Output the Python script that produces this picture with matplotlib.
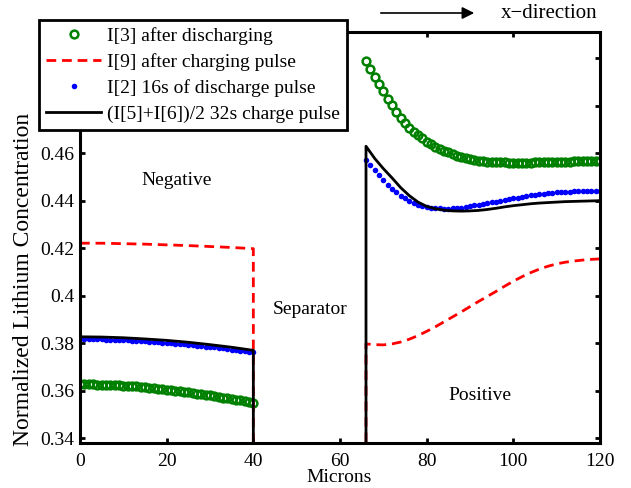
import matplotlib
matplotlib.use('Agg')
import matplotlib.pyplot as plt
from matplotlib.ticker import FuncFormatter

# ---------------- data ----------------
neg_x = list(range(0, 41))          # microns, negative electrode grid
pos_x = list(range(66, 121))        # microns, positive electrode grid
sep_x = [40, 66]                    # separator ends (concentration off scale)
sep_y = [0.0, 0.0]

green_neg = [0.3627, 0.3627, 0.3627, 0.3627, 0.3626, 0.3626, 0.3625, 0.3624, 0.3624, 0.3623,
             0.3622, 0.3621, 0.3619, 0.3618, 0.3617, 0.3615, 0.3613, 0.3611, 0.3609, 0.3607,
             0.3605, 0.3603, 0.3600, 0.3598, 0.3595, 0.3593, 0.3590, 0.3588, 0.3585, 0.3583,
             0.3580, 0.3577, 0.3574, 0.3571, 0.3568, 0.3565, 0.3562, 0.3559, 0.3555, 0.3552,
             0.3549]
green_pos = [0.4988, 0.4955, 0.4922, 0.4890, 0.4860, 0.4830, 0.4801, 0.4774, 0.4750, 0.4728,
             0.4708, 0.4691, 0.4676, 0.4662, 0.4649, 0.4638, 0.4628, 0.4619, 0.4611, 0.4603,
             0.4596, 0.4590, 0.4584, 0.4579, 0.4575, 0.4571, 0.4568, 0.4566, 0.4564, 0.4563,
             0.4562, 0.4561, 0.4561, 0.4560, 0.4560, 0.4560, 0.4560, 0.4560, 0.4560, 0.4561,
             0.4561, 0.4561, 0.4562, 0.4562, 0.4563, 0.4563, 0.4564, 0.4564, 0.4565, 0.4565,
             0.4565, 0.4566, 0.4566, 0.4566, 0.4566]

blue_neg = [0.3817, 0.3817, 0.3817, 0.3817, 0.3816, 0.3816, 0.3815, 0.3815, 0.3814, 0.3814,
            0.3813, 0.3812, 0.3811, 0.3810, 0.3809, 0.3808, 0.3807, 0.3805, 0.3804, 0.3802,
            0.3801, 0.3799, 0.3798, 0.3796, 0.3795, 0.3793, 0.3791, 0.3789, 0.3788, 0.3786,
            0.3784, 0.3782, 0.3780, 0.3778, 0.3775, 0.3773, 0.3771, 0.3769, 0.3767, 0.3764,
            0.3762]
blue_pos = [0.4570, 0.4550, 0.4528, 0.4506, 0.4486, 0.4468, 0.4451, 0.4435, 0.4421, 0.4410,
            0.4399, 0.4390, 0.4383, 0.4378, 0.4374, 0.4371, 0.4369, 0.4368, 0.4367, 0.4367,
            0.4368, 0.4369, 0.4371, 0.4374, 0.4377, 0.4380, 0.4383, 0.4386, 0.4389, 0.4393,
            0.4396, 0.4400, 0.4403, 0.4406, 0.4410, 0.4413, 0.4416, 0.4419, 0.4422, 0.4425,
            0.4427, 0.4429, 0.4431, 0.4433, 0.4435, 0.4436, 0.4437, 0.4438, 0.4439, 0.4440,
            0.4441, 0.4441, 0.4442, 0.4442, 0.4442]

black_neg_x = [0, 5, 10, 15, 20, 25, 30, 35, 40]
black_neg = [0.3827, 0.3826, 0.3823, 0.3818, 0.3812, 0.3804, 0.3794, 0.3783, 0.3770]
black_pos_x = [66, 68, 70, 72, 74, 76, 78, 80, 82, 84, 86, 88, 90, 92, 94, 96, 98, 100,
               102, 104, 106, 108, 110, 112, 114, 116, 118, 120]
black_pos = [0.4629, 0.4578, 0.4535, 0.4496, 0.4455, 0.4421, 0.4394, 0.4376, 0.4366, 0.4360,
             0.4357, 0.4356, 0.4357, 0.4359, 0.4363, 0.4368, 0.4374, 0.4379, 0.4383, 0.4387,
             0.4390, 0.4392, 0.4394, 0.4396, 0.4397, 0.4398, 0.4399, 0.4400]

red_neg_x = [0, 5, 10, 15, 20, 25, 30, 35, 40]
red_neg = [0.4221, 0.4221, 0.4219, 0.4217, 0.4214, 0.4211, 0.4207, 0.4203, 0.4198]
red_pos_x = black_pos_x
red_pos = [0.3797, 0.3794, 0.3793, 0.3797, 0.3805, 0.3817, 0.3832, 0.3850, 0.3869, 0.3890,
           0.3911, 0.3932, 0.3954, 0.3976, 0.3997, 0.4018, 0.4040, 0.4061, 0.4080, 0.4097,
           0.4112, 0.4124, 0.4134, 0.4141, 0.4146, 0.4150, 0.4153, 0.4155]

labels = ['I[3] after discharging', 'I[9] after charging pulse',
          'I[2] 16s of discharge pulse', '(I[5]+I[6])/2 32s charge pulse']
x_ticks = [0, 20, 40, 60, 80, 100, 120]
y_ticks = [0.34, 0.36, 0.38, 0.40, 0.42, 0.44, 0.46, 0.48, 0.50]
region_text = ['Negative', 'Separator', 'Positive']
region_pos = [(22.4, 0.4487), (53.1, 0.3944), (92.3, 0.3582)]

# ---------------- figure ----------------
plt.rcParams['font.family'] = ['Liberation Serif', 'DejaVu Serif']

W, H = 631, 488
fig = plt.figure(figsize=(W / 100, H / 100), dpi=100)
ax = fig.add_axes([80 / W, 1 - 443 / H, 520 / W, 411 / H])

green = (0, 0.5, 0)
h1, = ax.plot(neg_x + pos_x, green_neg + green_pos, linestyle='none', marker='o',
              markersize=5.6, markerfacecolor='none', markeredgecolor=green,
              markeredgewidth=1.8, label=labels[0])
h2, = ax.plot(red_neg_x + sep_x + red_pos_x, red_neg + sep_y + red_pos, color='red',
              linestyle=(0, (3.5, 2.1)), linewidth=2.0, label=labels[1])
h3, = ax.plot(neg_x + pos_x, blue_neg + blue_pos, linestyle='none', marker='o',
              markersize=4.0, markeredgewidth=0, color='blue', label=labels[2])
h4, = ax.plot(black_neg_x + sep_x + black_pos_x, black_neg + sep_y + black_pos,
              color='black', linewidth=2.0, label=labels[3])

ax.set_xlim(0, 120)
ax.set_ylim(0.338, 0.511)
ax.set_xticks(x_ticks)
ax.set_yticks(y_ticks)
ax.yaxis.set_major_formatter(FuncFormatter(lambda v, p: '%g' % round(v, 2)))
ax.tick_params(direction='in', length=3.5, width=2.0, top=True, right=True,
               labelsize=14)
ax.tick_params(axis='x', pad=7)
ax.tick_params(axis='y', pad=4)
for s in ax.spines.values():
    s.set_linewidth(2.2)

ax.set_xlabel('Microns', fontsize=14, va='center')
ax.xaxis.set_label_coords((339 - 80) / 520, (443 - 477.5) / 411)
ax.set_ylabel('Normalized Lithium Concentration', fontsize=17, va='center')
ax.yaxis.set_label_coords((24 - 80) / 520, (443 - 279) / 411)

for t, (xx, yy) in zip(region_text, region_pos):
    ax.text(xx, yy, t, fontsize=14, ha='center', va='center')

leg = ax.legend(handles=[h1, h2, h3, h4], loc='upper left',
                bbox_to_anchor=(39 / W, 1 - 20 / H), bbox_transform=fig.transFigure,
                fontsize=14, numpoints=1, handlelength=2.8, handletextpad=0.3,
                borderpad=0.38, labelspacing=0.41, fancybox=False, framealpha=1,
                edgecolor='black', borderaxespad=0)
leg.get_frame().set_linewidth(2.0)
leg.set_zorder(10)

fig.text(549.5 / W, 1 - 13 / H, 'x\u2212direction', fontsize=15, ha='center', va='center')
fig.add_artist(matplotlib.patches.FancyArrowPatch(
    (378 / W, 1 - 13 / H), (477 / W, 1 - 13 / H), transform=fig.transFigure,
    arrowstyle='-|>', mutation_scale=18, linewidth=1.2, color='black'))

fig.savefig('out.png', dpi=100)
